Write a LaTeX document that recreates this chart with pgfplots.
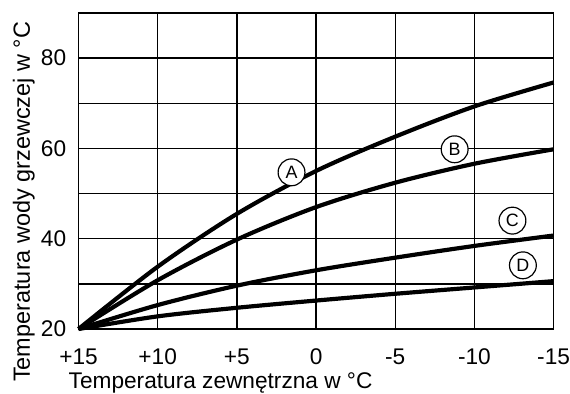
\documentclass[border=0pt]{standalone}
\usepackage{pgfplots}
\pgfplotsset{compat=1.18}
\usepackage{fontspec}
\setmainfont{Liberation Sans}
\begin{document}
\begin{tikzpicture}
\begin{axis}[
  scale only axis,
  width=239pt, height=159pt,
  x dir=reverse,
  xmin=-15, xmax=15,
  ymin=20, ymax=90,
  xtick={15,10,5,0,-5,-10,-15},
  xticklabels={+15,+10,+5,0,-5,-10,-15},
  ytick={20,40,60,80},
  minor ytick={30,50,70},
  grid=both,
  grid style={black, line width=0.7pt},
  minor grid style={black, line width=0.7pt},
  axis line style={black, line width=0.7pt},
  major tick length=0pt, minor tick length=0pt,
  tick style={draw=none},
  font=\fontsize{11.4}{13}\selectfont,
  /pgf/number format/assume math mode=true,
  xticklabel style={anchor=base, yshift=-18pt, inner sep=0pt},
  yticklabel style={anchor=east, xshift=-6pt, inner sep=0pt},
  xlabel={Temperatura zewnętrzna w °C},
  ylabel={Temperatura wody grzewczej w °C},
  xlabel style={at={(axis description cs:0.299,-0.189)}, anchor=base, inner sep=0pt},
  ylabel style={at={(axis description cs:-0.1025,0.4025)}, anchor=base, inner sep=0pt, font=\fontsize{11.8}{13}\selectfont},
  clip=false,
]
\path (axis description cs:-0.1653,-0.1981) rectangle (axis description cs:1.0272,1.0409);
\addplot[black, line width=2.1pt, smooth] coordinates {(15,20) (10,33.8) (5,45.5) (0,55.0) (-5,62.6) (-10,69.3) (-15,74.6)};
\addplot[black, line width=2.1pt, smooth] coordinates {(15,20) (10,30.8) (5,39.8) (0,47.0) (-5,52.4) (-10,56.6) (-15,59.8)};
\addplot[black, line width=2.1pt, smooth] coordinates {(15,20) (10,25.3) (5,29.6) (0,33.0) (-5,35.8) (-10,38.4) (-15,40.7)};
\addplot[black, line width=2.1pt, smooth] coordinates {(15,20) (10,22.8) (5,24.7) (0,26.3) (-5,27.8) (-10,29.2) (-15,30.6)};
\begin{scope}[every node/.style={circle, draw=black, fill=white, line width=0.6pt, inner sep=0pt, minimum size=13.5pt, font=\fontsize{9}{10}\selectfont}]
\node at (axis cs:1.55,54.7) {A};
\node at (axis cs:-8.75,59.8) {B};
\node at (axis cs:-12.4,44.0) {C};
\node at (axis cs:-13.06,34.1) {D};
\end{scope}
\end{axis}
\end{tikzpicture}
\end{document}
